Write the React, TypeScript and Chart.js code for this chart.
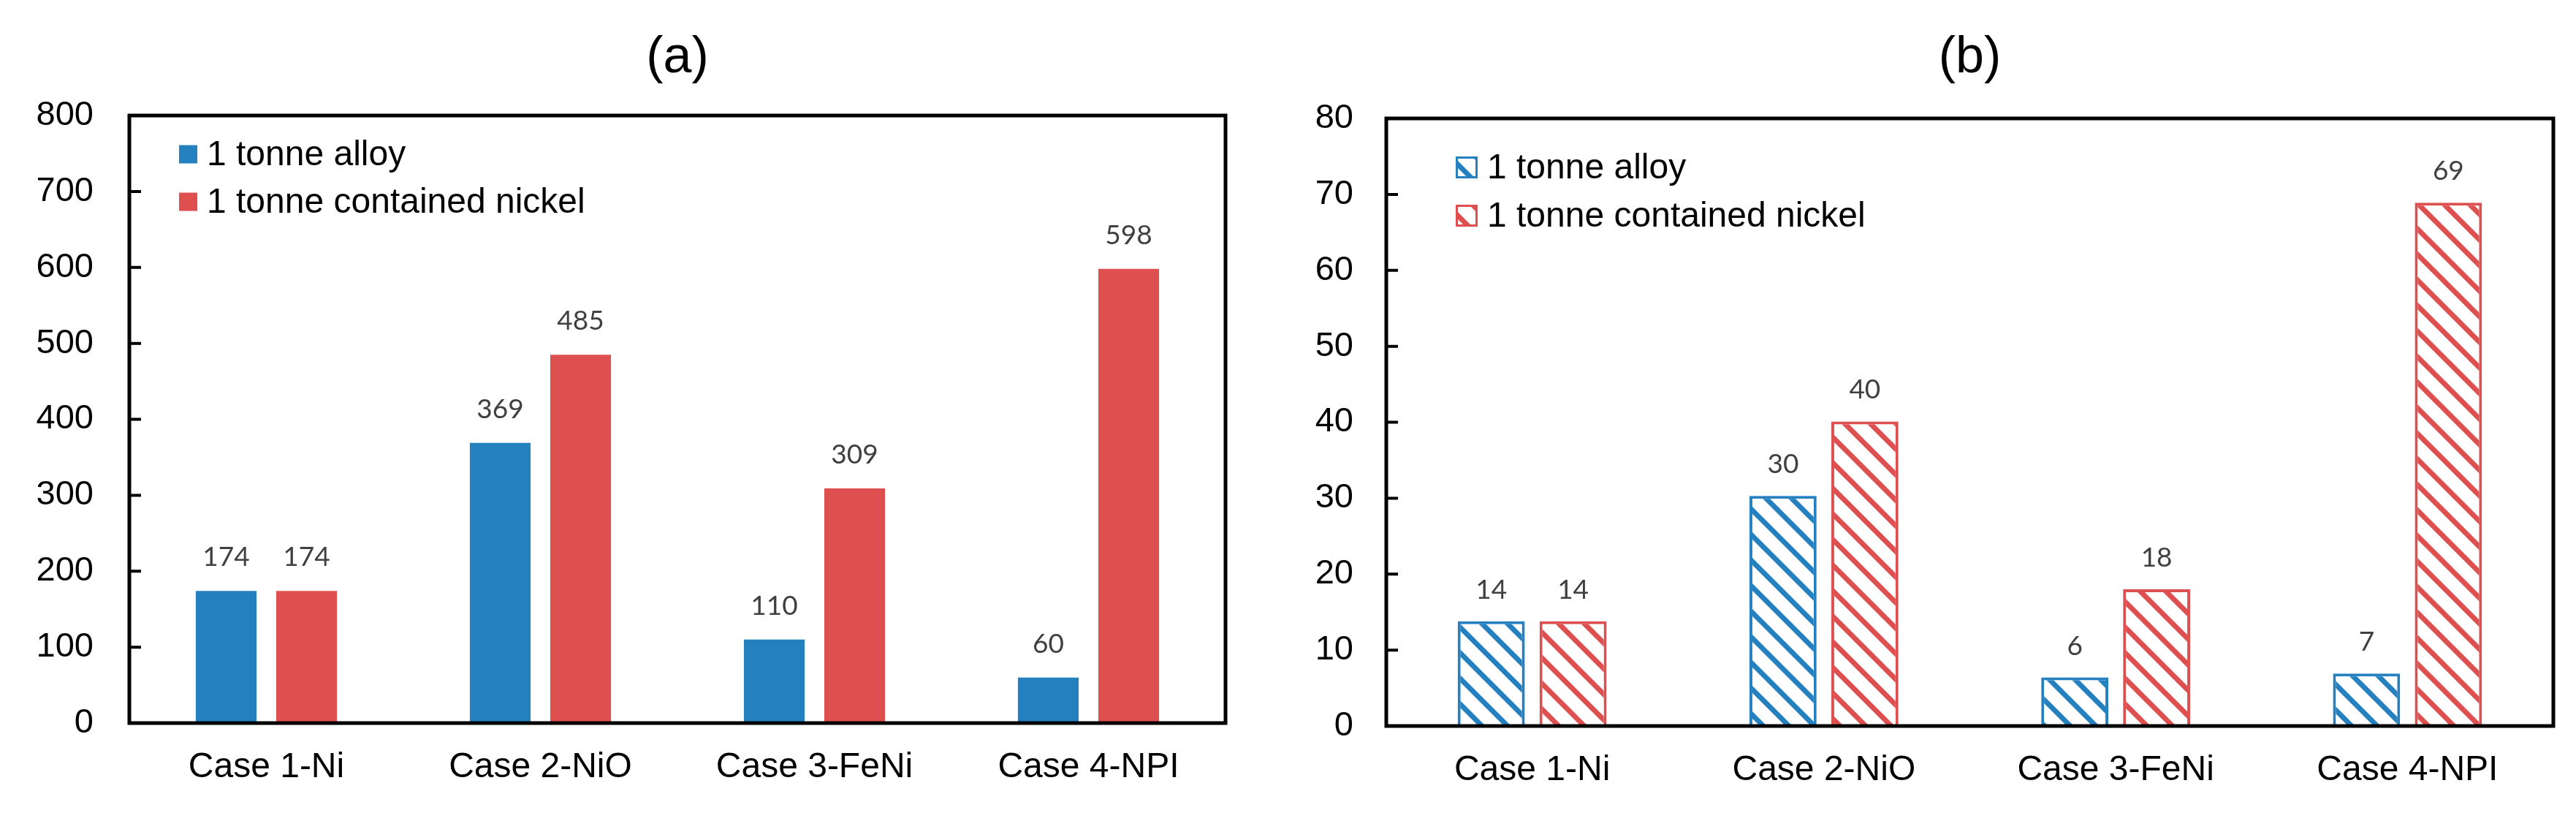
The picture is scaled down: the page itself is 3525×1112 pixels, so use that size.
import React, { useEffect, useRef } from 'react';
import { Chart, registerables } from 'chart.js';

Chart.register(...registerables);

// ---------- data ----------
const categories = ['Case 1-Ni', 'Case 2-NiO', 'Case 3-FeNi', 'Case 4-NPI'];
const seriesNames = ['1 tonne alloy', '1 tonne contained nickel'];
const alloyA = [174, 369, 110, 60];
const nickelA = [174, 485, 309, 598];
const alloyB = [13.8, 30.3, 6.4, 6.9];
const nickelB = [13.8, 40.1, 18.0, 68.9];
const ticksA = [0, 100, 200, 300, 400, 500, 600, 700, 800];
const ticksB = [0, 10, 20, 30, 40, 50, 60, 70, 80];
const panelTitles = ['(a)', '(b)'];

// ---------- styles ----------
const BLUE = '#2580c0';
const RED = '#de5050';
const SANS = '"Liberation Sans", Arial, sans-serif';
const LABEL_FONT = 'Lato, "Liberation Sans", sans-serif';
const H = 1112;

function hatch(color: string) {
  const s = 35;
  const c = document.createElement('canvas');
  c.width = s;
  c.height = s;
  const g = c.getContext('2d')!;
  g.fillStyle = '#ffffff';
  g.fillRect(0, 0, s, s);
  g.strokeStyle = color;
  g.lineWidth = 7;
  g.beginPath();
  for (const k of [-1, 0, 1]) {
    g.moveTo(-s, -s + k * s);
    g.lineTo(2 * s, 2 * s + k * s);
  }
  g.stroke();
  return g.createPattern(c, 'repeat')!;
}

const framePlugin = {
  id: 'frameBox',
  afterDraw(chart: any) {
    const { ctx, chartArea: a } = chart;
    const y = chart.scales.y;
    ctx.save();
    ctx.strokeStyle = '#000';
    ctx.lineWidth = 5;
    ctx.strokeRect(a.left, a.top, a.right - a.left, a.bottom - a.top);
    ctx.lineWidth = 4;
    ctx.beginPath();
    for (const t of y.ticks) {
      if (t.value <= y.min || t.value >= y.max) continue;
      const py = y.getPixelForValue(t.value);
      ctx.moveTo(a.left, py);
      ctx.lineTo(a.left + 16, py);
    }
    ctx.stroke();
    ctx.restore();
  },
};

const valueLabelPlugin = {
  id: 'valueLabels',
  afterDatasetsDraw(chart: any) {
    const { ctx } = chart;
    const gap = chart.options.plugins.valueLabels.gap;
    ctx.save();
    ctx.font = '37px ' + LABEL_FONT;
    ctx.fillStyle = '#404040';
    ctx.textAlign = 'center';
    ctx.textBaseline = 'alphabetic';
    chart.data.datasets.forEach((ds: any, i: number) => {
      const meta = chart.getDatasetMeta(i);
      meta.data.forEach((el: any, j: number) => {
        ctx.fillText(String(Math.round(ds.data[j])), el.x, el.y - gap);
      });
    });
    ctx.restore();
  },
};

const boxLegendPlugin = {
  id: 'boxLegend',
  afterDraw(chart: any) {
    const o = chart.options.plugins.boxLegend;
    const { ctx, chartArea: a } = chart;
    ctx.save();
    ctx.font = '48px ' + SANS;
    ctx.textAlign = 'left';
    ctx.textBaseline = 'middle';
    chart.data.datasets.forEach((ds: any, i: number) => {
      const cy = a.top + o.y0 + i * o.dy;
      const x = a.left + o.x;
      ctx.fillStyle = ds.backgroundColor;
      ctx.fillRect(x, cy - o.box / 2, o.box, o.box);
      if (ds.borderWidth > 0) {
        ctx.strokeStyle = ds.borderColor;
        ctx.lineWidth = 3;
        ctx.strokeRect(x + 1.5, cy - o.box / 2 + 1.5, o.box - 3, o.box - 3);
      }
      ctx.fillStyle = '#000';
      ctx.fillText(ds.label, x + o.box + 13, cy + 2);
    });
    ctx.restore();
  },
};

type PanelCfg = {
  title: string;
  alloy: number[];
  nickel: number[];
  ticks: number[];
  hatched: boolean;
  padRight: number;
  yWidth: number;
  xHeight: number;
  titleBottom: number;
  yPad: number;
  cp: number;
  bp: number;
  labelGap: number;
  legend: { x: number; y0: number; dy: number; box: number };
};

function buildConfig(p: PanelCfg): any {
  const fillBlue = p.hatched ? hatch(BLUE) : BLUE;
  const fillRed = p.hatched ? hatch(RED) : RED;
  const bw = p.hatched ? 4 : 0;
  const step = p.ticks[1] - p.ticks[0];
  return {
    type: 'bar',
    data: {
      labels: categories,
      datasets: [
        {
          label: seriesNames[0],
          data: p.alloy,
          backgroundColor: fillBlue,
          borderColor: BLUE,
          borderWidth: bw,
          categoryPercentage: p.cp,
          barPercentage: p.bp,
        },
        {
          label: seriesNames[1],
          data: p.nickel,
          backgroundColor: fillRed,
          borderColor: RED,
          borderWidth: bw,
          categoryPercentage: p.cp,
          barPercentage: p.bp,
        },
      ],
    },
    options: {
      responsive: false,
      animation: false,
      devicePixelRatio: 1,
      layout: { padding: { left: 0, right: p.padRight, top: 0, bottom: 0 } },
      plugins: {
        legend: { display: false },
        tooltip: { enabled: false },
        title: {
          display: true,
          text: p.title,
          fullSize: false,
          color: '#000',
          font: { family: SANS, size: 70, weight: 'normal', lineHeight: 1.2 },
          padding: { top: 38, bottom: p.titleBottom },
        },
        valueLabels: { gap: p.labelGap },
        boxLegend: p.legend,
      },
      scales: {
        x: {
          grid: { display: false, drawTicks: false },
          border: { display: false },
          ticks: {
            color: '#000',
            font: { family: SANS, size: 48, lineHeight: 1.2 },
            padding: 32,
            maxRotation: 0,
            autoSkip: false,
          },
          afterFit: (s: any) => {
            s.height = p.xHeight;
          },
        },
        y: {
          min: p.ticks[0],
          max: p.ticks[p.ticks.length - 1],
          grid: { display: false, drawTicks: false },
          border: { display: false },
          ticks: {
            stepSize: step,
            color: '#000',
            font: { family: SANS, size: 47 },
            padding: p.yPad,
          },
          afterFit: (s: any) => {
            s.width = p.yWidth;
          },
        },
      },
    },
    plugins: [valueLabelPlugin, framePlugin, boxLegendPlugin],
  };
}

function Panel({ left, width, cfg }: { left: number; width: number; cfg: PanelCfg }) {
  const ref = useRef<HTMLCanvasElement | null>(null);
  useEffect(() => {
    const chart = new Chart(ref.current!, buildConfig(cfg));
    return () => chart.destroy();
  }, []);
  return (
    <canvas
      ref={ref}
      width={width}
      height={H}
      style={{ position: 'absolute', left, top: 0, width, height: H }}
    />
  );
}

const panelA: PanelCfg = {
  title: panelTitles[0],
  alloy: alloyA,
  nickel: nickelA,
  ticks: ticksA,
  hatched: false,
  padRight: 23,
  yWidth: 177,
  xHeight: 123,
  titleBottom: 36,
  yPad: 49,
  cp: 0.587,
  bp: 0.755,
  labelGap: 34,
  legend: { x: 68, y0: 53, dy: 65, box: 25 },
};

const panelB: PanelCfg = {
  title: panelTitles[1],
  alloy: alloyB,
  nickel: nickelB,
  ticks: ticksB,
  hatched: true,
  padRight: 31,
  yWidth: 197,
  xHeight: 119,
  titleBottom: 40,
  yPad: 45,
  cp: 0.561,
  bp: 0.82,
  labelGap: 31,
  legend: { x: 95, y0: 67, dy: 66, box: 30 },
};

export default function App() {
  return (
    <div
      style={{
        position: 'absolute',
        left: 0,
        top: 0,
        width: 3525,
        height: H,
        background: '#fff',
        overflow: 'hidden',
      }}
    >
      <Panel left={0} width={1700} cfg={panelA} />
      <Panel left={1700} width={1825} cfg={panelB} />
    </div>
  );
}
